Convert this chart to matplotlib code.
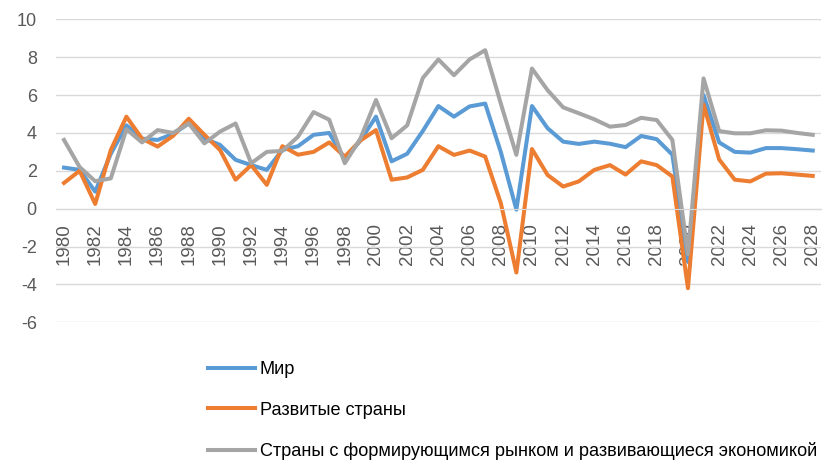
import matplotlib.pyplot as plt
import matplotlib as mpl
import numpy as np

mpl.rcParams['font.family'] = ['Liberation Sans', 'DejaVu Sans']
mpl.rcParams['axes.unicode_minus'] = False

years = np.arange(1980, 2029)

# Мир
world = [2.17, 2.05, 0.9, 2.9, 4.4, 3.7, 3.63, 3.95, 4.5, 3.7,
         3.37, 2.58, 2.3, 2.05, 3.1, 3.3, 3.9, 4.0, 2.6, 3.6,
         4.86, 2.5, 2.9, 4.1, 5.42, 4.86, 5.4, 5.55, 3.0, -0.05,
         5.42, 4.25, 3.54, 3.42, 3.54, 3.43, 3.25, 3.84, 3.67, 2.85,
         -2.8, 6.0, 3.5, 3.0, 2.96, 3.2, 3.2, 3.14, 3.07]
# Развитые страны
advanced = [1.36, 2.0, 0.25, 3.1, 4.86, 3.7, 3.28, 3.85, 4.75, 3.9,
            3.1, 1.53, 2.3, 1.26, 3.3, 2.85, 3.0, 3.5, 2.75, 3.6,
            4.15, 1.53, 1.65, 2.05, 3.3, 2.84, 3.07, 2.75, 0.3, -3.37,
            3.15, 1.78, 1.17, 1.44, 2.05, 2.3, 1.8, 2.5, 2.3, 1.7,
            -4.2, 5.5, 2.6, 1.53, 1.44, 1.85, 1.87, 1.8, 1.73]
# Страны с формирующимся рынком
emerging = [3.63, 2.2, 1.45, 1.6, 4.2, 3.5, 4.15, 4.0, 4.5, 3.45,
            4.07, 4.5, 2.4, 3.0, 3.05, 3.8, 5.1, 4.7, 2.4, 3.7,
            5.74, 3.72, 4.4, 6.9, 7.88, 7.05, 7.88, 8.37, 5.56, 2.84,
            7.4, 6.26, 5.35, 5.04, 4.72, 4.33, 4.42, 4.8, 4.68, 3.63,
            -2.4, 6.88, 4.1, 3.98, 3.98, 4.14, 4.12, 4.0, 3.9]

labels = ['Мир', 'Развитые страны',
          'Страны с формирующимся рынком и развивающиеся экономикой']
colors = ['#5B9BD5', '#ED7D31', '#A5A5A5']

fig = plt.figure(figsize=(8.39, 4.69), dpi=100)
ax = fig.add_axes([0.067, 0.3128, 0.911, 0.646])

for s, lab, c in zip([world, advanced, emerging], labels, colors):
    ax.plot(years, s, color=c, lw=2.9, label=lab, solid_joinstyle='round')

ax.set_xlim(1979.5, 2028.5)
ax.set_ylim(-6, 10)
ax.set_yticks(np.arange(-6, 11, 2))
ax.set_xticks(np.arange(1980, 2029, 2))
ax.grid(axis='y', color='#d9d9d9', lw=1)
ax.set_axisbelow(True)
for sp in ['top', 'right', 'left']:
    ax.spines[sp].set_visible(False)
ax.spines['bottom'].set_position(('data', 0))
ax.spines['bottom'].set_color('#d9d9d9')
ax.tick_params(axis='x', length=0, pad=10.5, labelrotation=90,
               labelsize=13.5, labelcolor='#595959')
ax.tick_params(axis='y', length=0, pad=14, labelsize=13, labelcolor='#595959')

fig.legend(loc='upper left', bbox_to_anchor=(208 / 839, 1 - 361 / 469),
           frameon=False, borderpad=0, borderaxespad=0,
           handlelength=2.6, handletextpad=0.25, labelspacing=1.3,
           prop={'size': 13.1})

plt.savefig('out.png', dpi=100)
